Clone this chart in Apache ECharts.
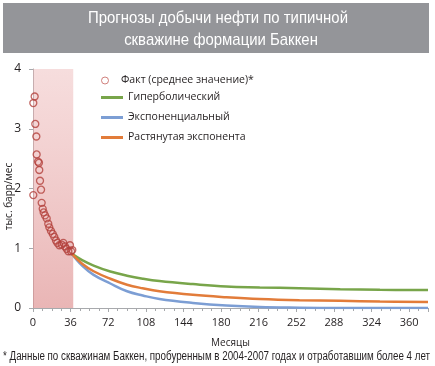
<!DOCTYPE html>
<html>
<head>
<meta charset="utf-8">
<script src="https://cdn.jsdelivr.net/npm/echarts@6/dist/echarts.min.js"></script>
<style>html,body{margin:0;padding:0;background:#fff}#c{width:435px;height:366px}</style>
</head>
<body>
<div id="c"></div>
<script>
// ---- data ----
var titleLines = ['Прогнозы добычи нефти по типичной', 'скважине формации Баккен'];
var footnote = '* Данные по скважинам Баккен, пробуренным в 2004-2007 годах и отработавшим более 4 лет';
var xName = 'Месяцы';
var yName = 'тыс. барр/мес';
var seriesNames = ['Факт (среднее значение)*', 'Гиперболический', 'Экспоненциальный', 'Растянутая экспонента'];

// actual monthly averages (month, value)
var factMonths = [0.3, 0.3, 1.6, 2.2, 3.2, 3.5, 4.8, 5.7, 6.0, 6.7, 7.7, 8.3, 9.3, 10.2, 11.5, 13.1, 14.6, 15.6, 17.2, 18.9, 20.4, 22.0, 23.3, 25.2, 27.5, 29.0, 30.6, 32.2, 33.8, 35.4, 36.4, 37.6];
var factValues = [1.89, 3.43, 3.54, 3.08, 2.87, 2.57, 2.45, 2.43, 2.31, 2.13, 1.98, 1.76, 1.66, 1.60, 1.55, 1.50, 1.41, 1.35, 1.29, 1.24, 1.19, 1.13, 1.09, 1.05, 1.06, 1.09, 1.03, 0.99, 0.95, 1.05, 0.95, 0.97];

// forecast curves
var forecastMonths = [37, 47, 58, 74, 90, 105, 121, 153, 185, 217, 255, 294, 332, 378];
var hyperbolic     = [0.91, 0.80, 0.71, 0.61, 0.54, 0.49, 0.45, 0.40, 0.36, 0.345, 0.33, 0.315, 0.305, 0.30];
var exponential    = [0.91, 0.71, 0.555, 0.41, 0.28, 0.21, 0.15, 0.085, 0.04, 0.015, 0.005, 0.0, 0.0, 0.0];
var stretched      = [0.91, 0.74, 0.615, 0.49, 0.39, 0.33, 0.28, 0.22, 0.18, 0.15, 0.13, 0.12, 0.11, 0.10];

// extent of the individual-well data cloud (months, value)
var cloudMonths = [0, 38.5];
var cloudValues = [0, 4];

var xTicks = {min: 0, max: 378, interval: 36};
var yTicks = {min: 0, max: 4, interval: 1};

function pairs(xs, ys) { return xs.map(function (x, i) { return [x, ys[i]]; }); }

// measure text to condense it like the narrow original face
var mctx = document.createElement('canvas').getContext('2d');
function fitScale(text, font, target) { mctx.font = font; return target / mctx.measureText(text).width; }
var titleFont = '17px "Liberation Sans", Arial, sans-serif';
var noteFont = '12px "Liberation Sans", Arial, sans-serif';
var titleScale = fitScale(titleLines[0], titleFont, 260);
var noteScale = fitScale(footnote, noteFont, 427);

var chart = echarts.init(document.getElementById('c'));
var txt = '#231f20';
var axisGray = '#a7a9ac';
var option = {
  animation: false,
  backgroundColor: '#fff',
  grid: {left: 33, right: 7, top: 69, bottom: 58, containLabel: false, outerBoundsMode: 'none'},
  xAxis: {
    type: 'value', min: xTicks.min, max: xTicks.max, interval: xTicks.interval,
    name: xName, nameLocation: 'middle', nameGap: 30, nameMoveOverlap: false,
    nameTextStyle: {color: txt, fontSize: 10, fontFamily: 'Open Sans'},
    axisLine: {lineStyle: {color: axisGray, width: 1}},
    axisTick: {show: true, length: 4, lineStyle: {color: axisGray}},
    minorTick: {show: true, splitNumber: 4, length: 3, lineStyle: {color: axisGray}},
    splitLine: {show: false},
    axisLabel: {color: txt, fontSize: 11, fontFamily: 'Open Sans', margin: 9, showMaxLabel: false}
  },
  yAxis: {
    type: 'value', min: yTicks.min, max: yTicks.max, interval: yTicks.interval,
    name: yName, nameLocation: 'middle', nameGap: 19, nameRotate: 90, nameMoveOverlap: false,
    nameTextStyle: {color: txt, fontSize: 10, fontFamily: 'Open Sans', padding: [0, 16, 0, 0]},
    axisLine: {show: true, lineStyle: {color: axisGray, width: 1}},
    axisTick: {show: true, length: 4, lineStyle: {color: axisGray}},
    splitLine: {show: false},
    axisLabel: {color: txt, fontSize: 12, fontFamily: 'Open Sans', margin: 12}
  },
  legend: [{
    orient: 'vertical', left: 96, top: 70, itemWidth: 22, itemHeight: 7,
    textStyle: {color: txt, fontSize: 10.5, fontFamily: 'Open Sans'},
    data: [{name: seriesNames[0], icon: 'circle', itemStyle: {color: '#fff', borderColor: '#c4625c', borderWidth: 1}}]
  }, {
    orient: 'vertical', left: 96, top: 87, itemWidth: 22, itemHeight: 3, itemGap: 9,
    textStyle: {color: txt, fontSize: 10.5, fontFamily: 'Open Sans'},
    data: [
      {name: seriesNames[1], icon: 'rect'},
      {name: seriesNames[2], icon: 'rect'},
      {name: seriesNames[3], icon: 'rect'}
    ]
  }],
  series: [
    {
      name: seriesNames[0], type: 'scatter', data: pairs(factMonths, factValues),
      symbol: 'circle', symbolSize: 7, z: 5,
      itemStyle: {color: 'rgba(255,255,255,0)', borderColor: '#b3413c', borderWidth: 1.3},
      markArea: {
        silent: true,
        itemStyle: {
          color: new echarts.graphic.LinearGradient(0, 0, 0, 1, [
            {offset: 0, color: 'rgba(236,180,180,0.45)'},
            {offset: 1, color: 'rgba(224,150,150,0.7)'}
          ])
        },
        data: [[{coord: [cloudMonths[0], cloudValues[1]]}, {coord: [cloudMonths[1], cloudValues[0]]}]]
      }
    },
    {name: seriesNames[1], type: 'line', data: pairs(forecastMonths, hyperbolic), smooth: 0.4, symbol: 'none', color: '#78a54a', lineStyle: {width: 2.5, color: '#78a54a'}, z: 3},
    {name: seriesNames[2], type: 'line', data: pairs(forecastMonths, exponential), smooth: 0.4, symbol: 'none', color: '#7c9ed4', lineStyle: {width: 2.5, color: '#7c9ed4'}, z: 2},
    {name: seriesNames[3], type: 'line', data: pairs(forecastMonths, stretched), smooth: 0.4, symbol: 'none', color: '#e27c3a', lineStyle: {width: 2.5, color: '#e27c3a'}, z: 3}
  ],
  graphic: [
    {type: 'rect', x: 3, y: 3, shape: {x: 0, y: 0, width: 426, height: 50}, style: {fill: '#949599'}, silent: true, z: 0},
    {type: 'text', x: 218, y: 10, scaleX: titleScale, style: {x: 0, y: 0, text: titleLines[0], fill: '#fff', font: titleFont, textAlign: 'center', textVerticalAlign: 'top'}, z: 1},
    {type: 'text', x: 221, y: 32, scaleX: titleScale, style: {x: 0, y: 0, text: titleLines[1], fill: '#fff', font: titleFont, textAlign: 'center', textVerticalAlign: 'top'}, z: 1},
    {type: 'text', x: 3, y: 351, scaleX: noteScale, style: {x: 0, y: 0, text: footnote, fill: txt, font: noteFont, textAlign: 'left', textVerticalAlign: 'top'}, z: 1}
  ]
};
chart.setOption(option);
</script>
</body>
</html>
